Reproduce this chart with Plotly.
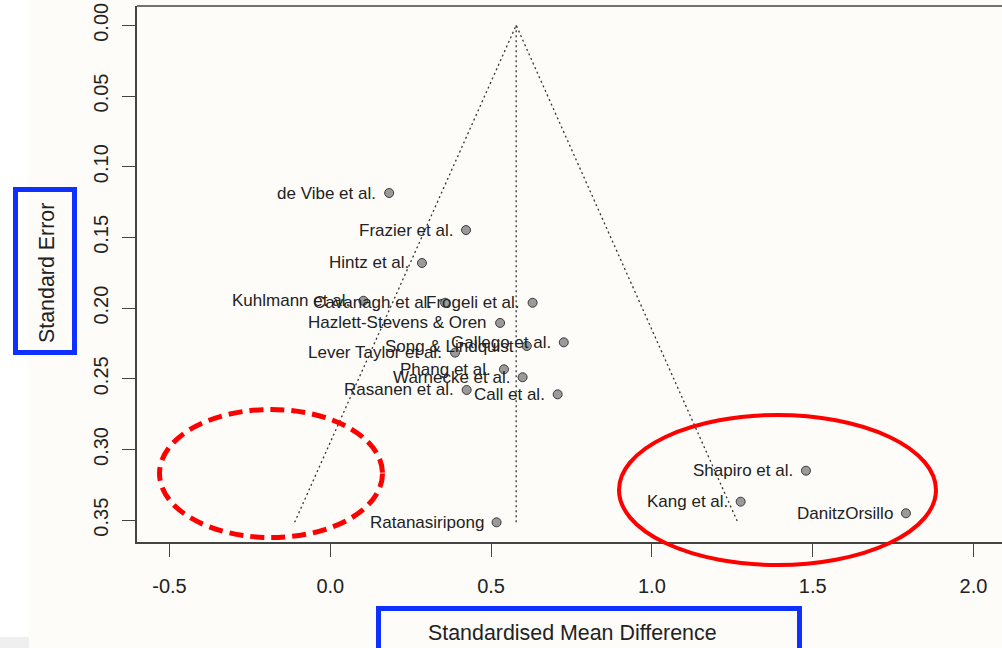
import plotly.graph_objects as go

# ---------------- data ----------------
study = ["de Vibe et al.", "Frazier et al.", "Hintz et al.", "Kuhlmann et al.",
         "Cavanagh et al.", "Frogeli et al.", "Hazlett-Stevens & Oren", "Gallego et al.",
         "Song & Lindquist", "Lever Taylor et al.", "Phang et al.", "Warnecke et al.",
         "Rasanen et al.", "Call et al.", "Shapiro et al.", "Kang et al.",
         "DanitzOrsillo", "Ratanasiripong"]
smd = [0.183, 0.422, 0.285, 0.103, 0.357, 0.629, 0.528, 0.726, 0.611, 0.388,
       0.540, 0.598, 0.424, 0.707, 1.479, 1.276, 1.790, 0.517]
se = [0.1186, 0.1448, 0.1681, 0.1948, 0.1962, 0.1962, 0.2105, 0.2242, 0.2268, 0.2315,
      0.2433, 0.2489, 0.2579, 0.2610, 0.3150, 0.3369, 0.3451, 0.3515]
pooled = 0.578

x_ticks = [-0.5, 0.0, 0.5, 1.0, 1.5, 2.0]
x_ticktext = ["-0.5", "0.0", "0.5", "1.0", "1.5", "2.0"]
y_ticks = [0.00, 0.05, 0.10, 0.15, 0.20, 0.25, 0.30, 0.35]
y_ticktext = ["0.00", "0.05", "0.10", "0.15", "0.20", "0.25", "0.30", "0.35"]

# ---------------- layout geometry (pixels) ----------------
W, H = 1002, 648
L, T, R, B = 137, 6, 0, 106
PW, PH = W - L - R, H - T - B
def px(xp):
    return (xp - L) / PW
def py(yp):
    return (T + PH - yp) / PH

FONT = "Liberation Sans, Arial, Helvetica, sans-serif"
INK = "#222222"
BG = "#FDFCF9"

fig = go.Figure()

# funnel lines
max_se = max(se)
fig.add_trace(go.Scatter(
    x=[pooled - 1.96 * max_se, pooled, pooled + 1.96 * max_se],
    y=[max_se, 0.0, max_se], mode="lines",
    line=dict(color="#333333", width=1.3, dash="2px,3px"), hoverinfo="skip", showlegend=False))
fig.add_trace(go.Scatter(
    x=[pooled, pooled], y=[0.0, max_se], mode="lines",
    line=dict(color="#333333", width=1.3, dash="2px,3px"), hoverinfo="skip", showlegend=False))

# study points
fig.add_trace(go.Scatter(
    x=smd, y=se, mode="markers",
    marker=dict(size=9, color="#9a9a9a", line=dict(color="#3a3a3a", width=1)),
    text=study, showlegend=False))

annotations = []
for s, xv, yv in zip(study, smd, se):
    annotations.append(dict(x=xv, y=yv, xref="x", yref="y", text=s, showarrow=False,
                            xanchor="right", yanchor="middle", xshift=-11,
                            font=dict(family=FONT, size=17, color=INK)))

# axis titles inside blue boxes
annotations.append(dict(x=px(572), y=py(633), xref="paper", yref="paper",
                        text="Standardised Mean Difference", showarrow=False,
                        xanchor="center", yanchor="middle",
                        font=dict(family=FONT, size=21.4, color=INK)))
annotations.append(dict(x=px(47), y=py(273), xref="paper", yref="paper",
                        text="Standard Error", showarrow=False, textangle=-90,
                        xanchor="center", yanchor="middle",
                        font=dict(family=FONT, size=21.4, color=INK)))

BLUE = "#1030FF"
RED = "#FF0000"
shapes = [
    # left white strip and grey corner
    dict(type="rect", xref="paper", yref="paper", x0=px(0), x1=px(28), y0=py(0), y1=py(648),
         fillcolor="#FFFFFF", line=dict(width=0), layer="below"),
    dict(type="rect", xref="paper", yref="paper", x0=px(0), x1=px(29), y0=py(637), y1=py(648),
         fillcolor="#EFEFEF", line=dict(width=0), layer="below"),
    # top border of box
    dict(type="line", xref="paper", yref="paper", x0=0, x1=1, y0=1, y1=1,
         line=dict(color="#444444", width=1.5)),
    # blue boxes
    dict(type="rect", xref="paper", yref="paper", x0=px(15.5), x1=px(74.5), y0=py(189.5), y1=py(352.5),
         line=dict(color=BLUE, width=5), fillcolor="rgba(0,0,0,0)"),
    dict(type="rect", xref="paper", yref="paper", x0=px(378.5), x1=px(799.5), y0=py(608.5), y1=py(665),
         line=dict(color=BLUE, width=5), fillcolor="rgba(0,0,0,0)"),
    # red ellipses
    dict(type="circle", xref="paper", yref="paper", x0=px(159.5), x1=px(382.5), y0=py(409.5), y1=py(537.5),
         line=dict(color=RED, width=5, dash="14px,7px"), fillcolor="rgba(0,0,0,0)"),
    dict(type="circle", xref="paper", yref="paper", x0=px(619), x1=px(936), y0=py(415), y1=py(565),
         line=dict(color=RED, width=4), fillcolor="rgba(0,0,0,0)"),
]

x0 = (L - 330.3) / 321.6
x1 = (W - R - 330.3) / 321.6
y_top = (T - 25.3) / 1414.0
y_bot = (T + PH - 25.3) / 1414.0

fig.update_layout(
    width=W, height=H, margin=dict(l=L, r=R, t=T, b=B, autoexpand=False),
    paper_bgcolor=BG, plot_bgcolor=BG,
    font=dict(family=FONT, color=INK),
    xaxis=dict(range=[x0, x1], tickvals=x_ticks, ticktext=x_ticktext,
               showgrid=False, zeroline=False, showline=True, linecolor="#444444", linewidth=1.5,
               ticks="outside", ticklen=13, tickwidth=1.2, tickcolor="#444444",
               tickfont=dict(family=FONT, size=20, color=INK), ticklabelstandoff=12),
    yaxis=dict(range=[y_bot, y_top], tickvals=y_ticks, ticktext=y_ticktext,
               showgrid=False, zeroline=False, showline=True, linecolor="#444444", linewidth=1.5,
               ticks="outside", ticklen=13, tickwidth=1.2, tickcolor="#444444", tickangle=-90,
               tickfont=dict(family=FONT, size=20, color=INK), ticklabelstandoff=6),
    annotations=annotations, shapes=shapes, showlegend=False,
)

fig.write_html("out.html", config={"displayModeBar": False},
               post_script="document.body.style.margin='0';document.body.style.overflow='hidden';")
